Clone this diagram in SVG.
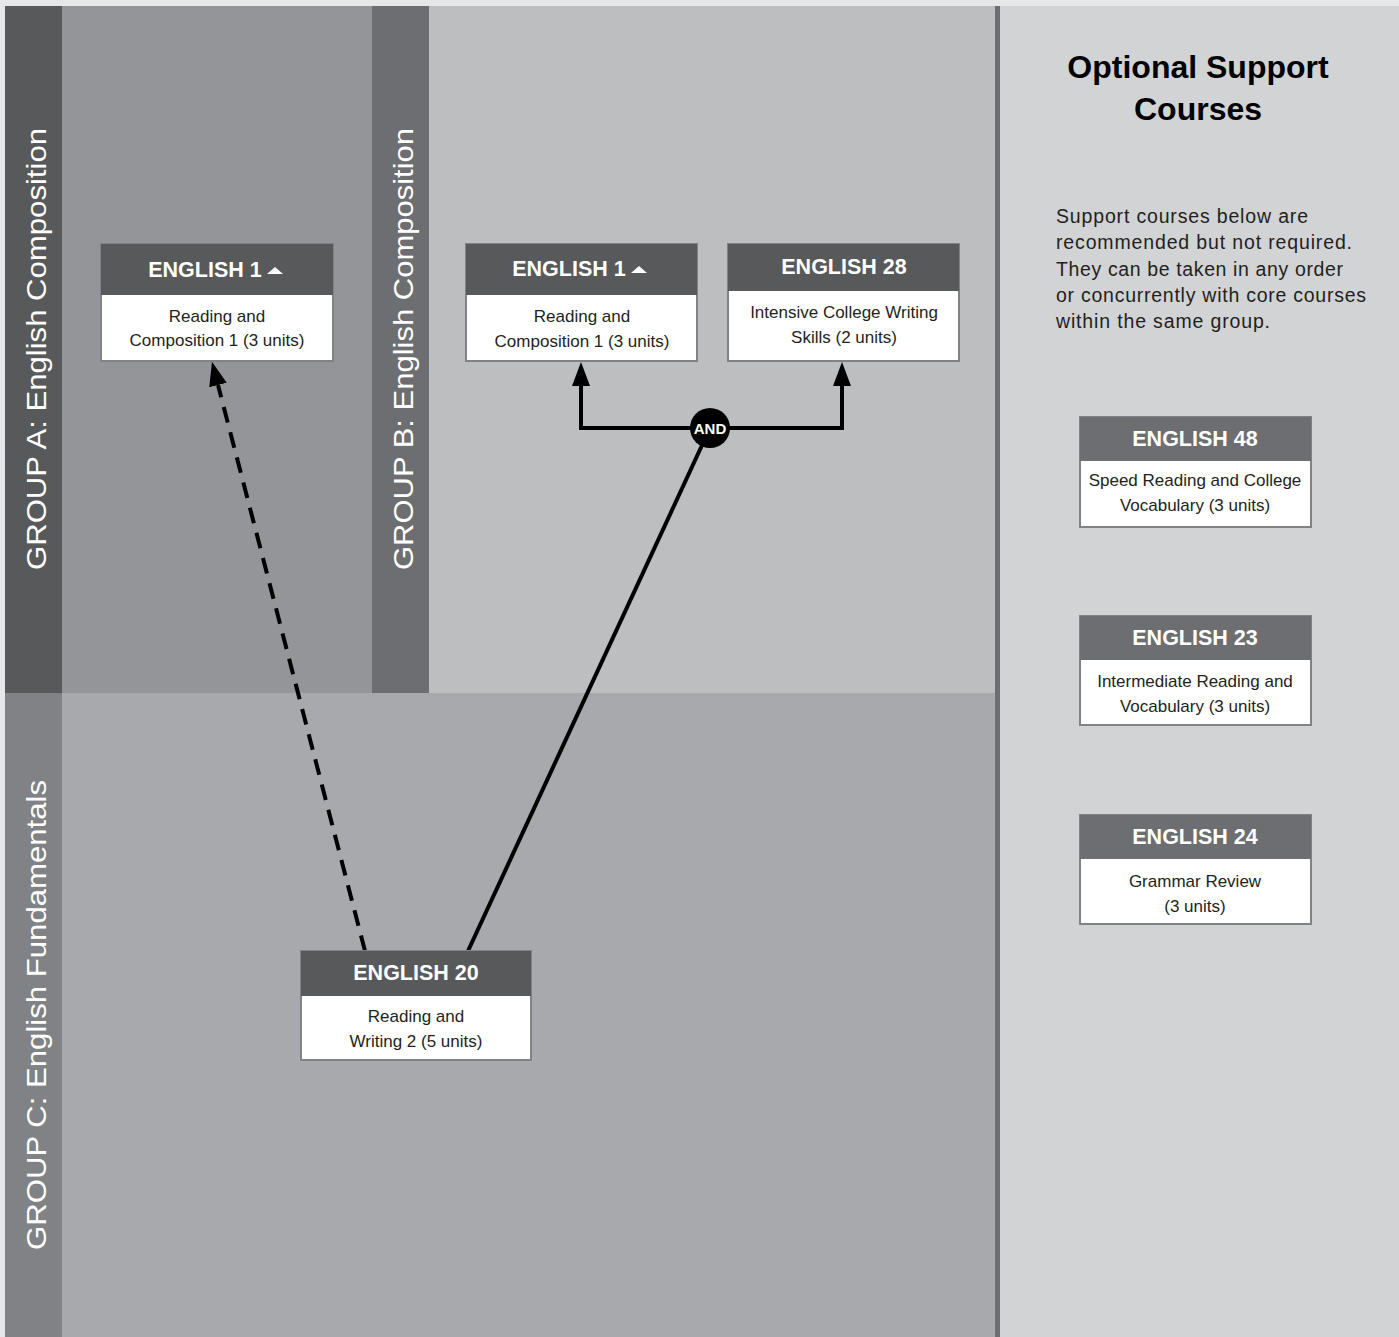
<svg xmlns="http://www.w3.org/2000/svg" width="1399" height="1337" viewBox="0 0 1399 1337">
<defs>
<style>
.lbl{font-family:"Liberation Sans",Arial,sans-serif;font-size:28px;fill:#ffffff;}
.hd{font-family:"Liberation Sans",Arial,sans-serif;font-size:21.5px;font-weight:bold;fill:#ffffff;text-anchor:middle;}
.bd{font-family:"Liberation Sans",Arial,sans-serif;font-size:17px;fill:#231f20;text-anchor:middle;}
.box{fill:#ffffff;stroke:#808285;stroke-width:2;}
.hdr1{fill:#58595b;}
.hdr2{fill:#6d6e71;}
.title{font-family:"Liberation Sans",Arial,sans-serif;font-size:32px;font-weight:bold;fill:#000000;text-anchor:middle;}
.para{font-family:"Liberation Sans",Arial,sans-serif;font-size:19.5px;fill:#231f20;}
.conn{fill:none;stroke:#000000;stroke-width:4;stroke-linejoin:miter;}
</style>
<marker id="arr" markerUnits="userSpaceOnUse" viewBox="0 -10 24 20" refX="0" refY="0" markerWidth="24" markerHeight="20" orient="auto">
<path d="M0,-9 L24,0 L0,9 z" fill="#000000"/>
</marker>
</defs>

<g id="background">
<rect x="0" y="0" width="1399" height="1337" fill="#e6e7e8"/>
<rect x="5" y="6" width="57" height="687" fill="#58595b"/>
<rect x="62" y="6" width="310" height="687" fill="#939598"/>
<rect x="372" y="6" width="57" height="687" fill="#6d6e71"/>
<rect x="429" y="6" width="566" height="687" fill="#bcbec0"/>
<rect x="5" y="693" width="57" height="644" fill="#808285"/>
<rect x="62" y="693" width="933" height="644" fill="#a7a9ac"/>
<rect x="995" y="6" width="5" height="1331" fill="#6d6e71"/>
<rect x="1000" y="6" width="399" height="1331" fill="#d1d3d4"/>
</g>

<g id="group-labels">
<text class="lbl" transform="translate(46,570) rotate(-90)" textLength="442" lengthAdjust="spacingAndGlyphs">GROUP A: English Composition</text>
<text class="lbl" transform="translate(413,570) rotate(-90)" textLength="442" lengthAdjust="spacingAndGlyphs">GROUP B: English Composition</text>
<text class="lbl" transform="translate(46,1250) rotate(-90)" textLength="470" lengthAdjust="spacingAndGlyphs">GROUP C: English Fundamentals</text>
</g>

<g id="support-intro">
<text class="title" x="1198" y="78">Optional Support</text>
<text class="title" x="1198" y="120">Courses</text>
<text class="para" x="1056" y="223" textLength="252">Support courses below are</text>
<text class="para" x="1056" y="249" textLength="296">recommended but not required.</text>
<text class="para" x="1056" y="276" textLength="287">They can be taken in any order</text>
<text class="para" x="1056" y="302" textLength="310">or concurrently with core courses</text>
<text class="para" x="1056" y="328" textLength="214">within the same group.</text>
</g>

<g id="connectors">
<path class="conn" d="M710,428 H581 V386" marker-end="url(#arr)"/>
<path class="conn" d="M710,428 H842 V386" marker-end="url(#arr)"/>
<path class="conn" d="M468,951 L710,428"/>
<path class="conn" d="M365,951 L218,385" stroke-dasharray="16 10" marker-end="url(#arr)"/>
</g>

<g id="and-node">
<circle cx="710" cy="428" r="20" fill="#000000"/>
<text x="710" y="434" font-family="'Liberation Sans',Arial,sans-serif" font-size="15" font-weight="bold" fill="#ffffff" text-anchor="middle">AND</text>
</g>

<g id="eng1-a">
<rect class="box" x="101" y="244" width="232" height="117"/>
<rect class="hdr1" x="101" y="244" width="232" height="51"/>
<text class="hd" x="205" y="277">ENGLISH 1</text>
<polygon points="267,274 275,267 283,274" fill="#ffffff"/>
<text class="bd" x="217" y="322">Reading and</text>
<text class="bd" x="217" y="346">Composition 1 (3 units)</text>
</g>

<g id="eng1-b">
<rect class="box" x="466" y="244" width="231" height="117"/>
<rect class="hdr1" x="466" y="244" width="231" height="51"/>
<text class="hd" x="569" y="276">ENGLISH 1</text>
<polygon points="631,273 639,266 647,273" fill="#ffffff"/>
<text class="bd" x="582" y="322">Reading and</text>
<text class="bd" x="582" y="347">Composition 1 (3 units)</text>
</g>

<g id="eng28">
<rect class="box" x="728" y="244" width="231" height="117"/>
<rect class="hdr1" x="728" y="244" width="231" height="47"/>
<text class="hd" x="844" y="274">ENGLISH 28</text>
<text class="bd" x="844" y="318">Intensive College Writing</text>
<text class="bd" x="844" y="343">Skills (2 units)</text>
</g>

<g id="eng20">
<rect class="box" x="301" y="951" width="230" height="109"/>
<rect class="hdr1" x="301" y="951" width="230" height="45"/>
<text class="hd" x="416" y="980">ENGLISH 20</text>
<text class="bd" x="416" y="1022">Reading and</text>
<text class="bd" x="416" y="1047">Writing 2 (5 units)</text>
</g>

<g id="eng48">
<rect class="box" x="1080" y="417" width="231" height="110"/>
<rect class="hdr2" x="1080" y="417" width="231" height="44"/>
<text class="hd" x="1195" y="446">ENGLISH 48</text>
<text class="bd" x="1195" y="486">Speed Reading and College</text>
<text class="bd" x="1195" y="511">Vocabulary (3 units)</text>
</g>

<g id="eng23">
<rect class="box" x="1080" y="616" width="231" height="109"/>
<rect class="hdr2" x="1080" y="616" width="231" height="44"/>
<text class="hd" x="1195" y="645">ENGLISH 23</text>
<text class="bd" x="1195" y="687">Intermediate Reading and</text>
<text class="bd" x="1195" y="712">Vocabulary (3 units)</text>
</g>

<g id="eng24">
<rect class="box" x="1080" y="815" width="231" height="109"/>
<rect class="hdr2" x="1080" y="815" width="231" height="44"/>
<text class="hd" x="1195" y="844">ENGLISH 24</text>
<text class="bd" x="1195" y="887">Grammar Review</text>
<text class="bd" x="1195" y="912">(3 units)</text>
</g>
</svg>
